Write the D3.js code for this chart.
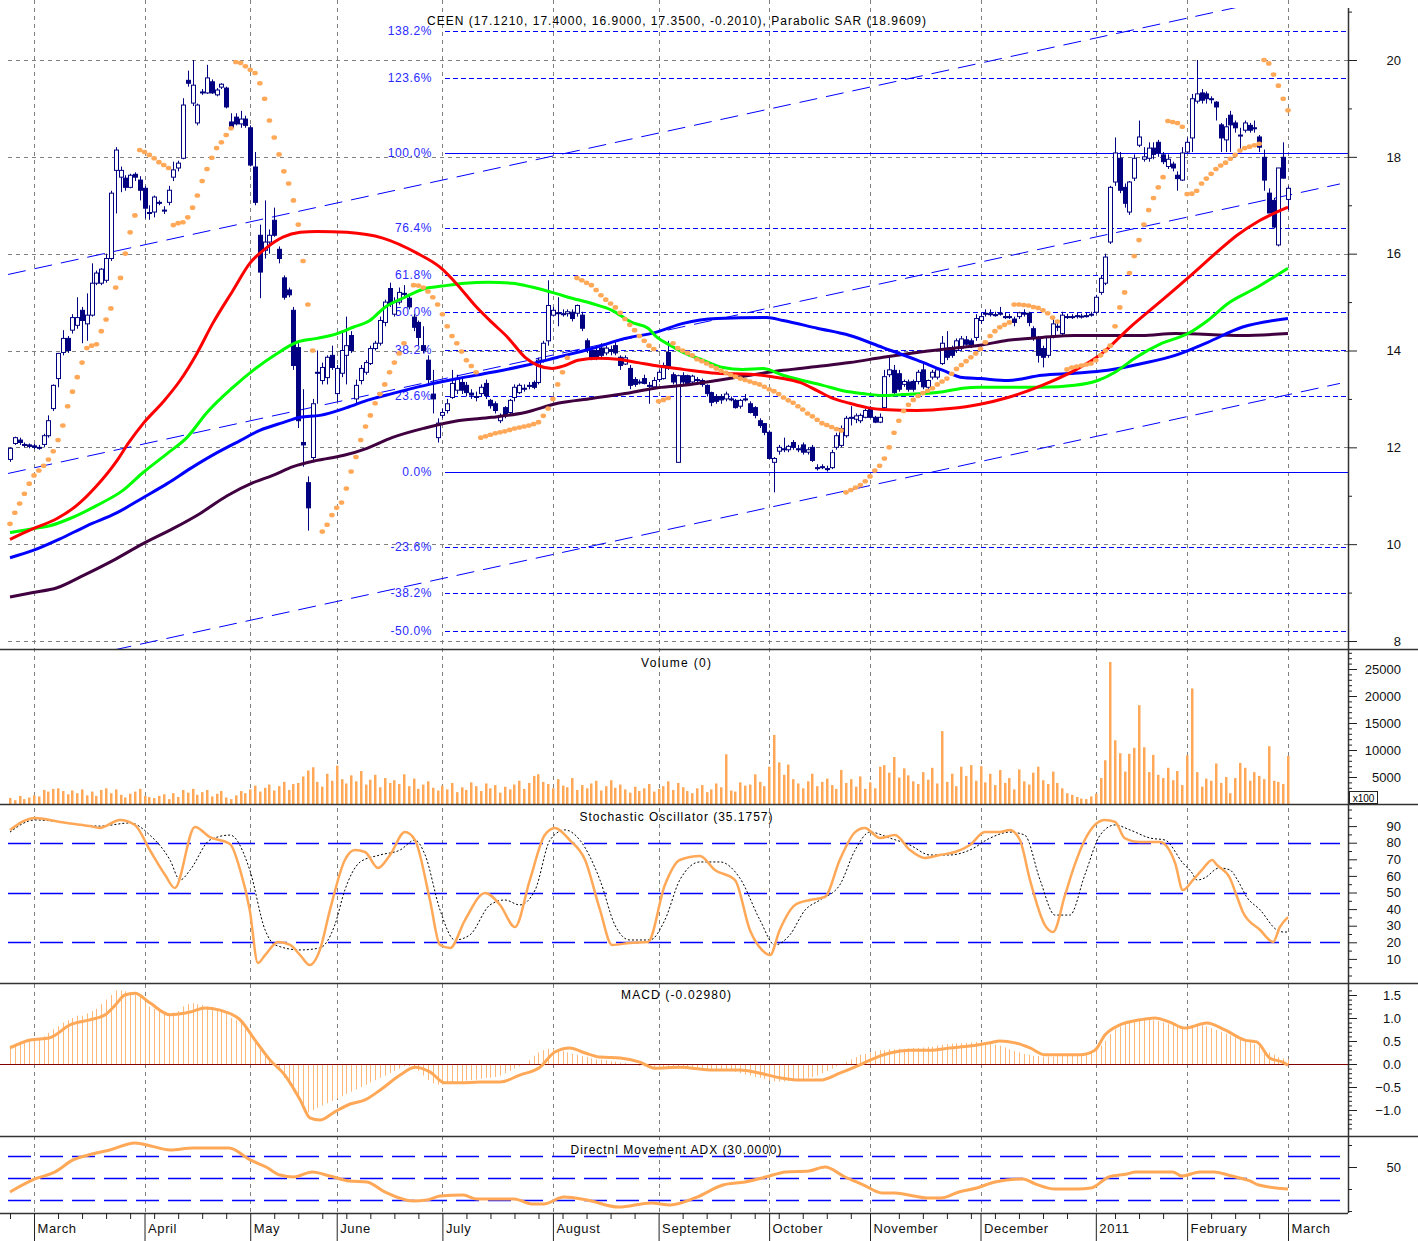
<!DOCTYPE html>
<html>
<head>
<meta charset="utf-8">
<script src="https://cdn.jsdelivr.net/npm/d3@7/dist/d3.min.js"></script>
<style>
  body { margin: 0; background: #fff; }
  svg text { font-family: Arial, "Liberation Sans", sans-serif; }
</style>
</head>
<body>
<div id="container"></div>
<script>
/* CONSTANTS AND GLOBALS */
const width = 1418, height = 1241;
const axisX = 1348;
const orange = "#ffa858";

/* DATA */
// one row per trading day: open, high, low, close
const ohlc = [
[11.75,12.0,11.7,11.98],[12.08,12.22,12.05,12.2],[12.15,12.2,12.05,12.1],[12.06,12.1,12.0,12.05],[12.05,12.08,11.98,12.02],
[12.03,12.07,11.96,12.0],[12.0,12.05,11.95,11.98],[12.06,12.28,12.0,12.24],[12.24,12.66,12.2,12.55],[12.8,13.3,12.75,13.28],
[13.42,13.95,13.24,13.94],[13.96,14.42,13.9,14.25],[14.25,14.3,13.95,14.0],[14.42,14.75,14.35,14.68],[14.52,15.1,14.45,14.68],
[14.83,14.9,14.15,14.62],[14.55,15.18,14.2,14.73],[14.73,15.8,14.7,15.39],[15.39,15.65,15.35,15.6],[15.39,15.7,15.35,15.68],
[15.45,16.0,15.4,15.9],[15.9,17.3,15.85,17.25],[17.72,18.2,16.83,18.14],[17.58,17.8,17.27,17.72],[17.56,17.62,17.3,17.37],
[17.37,17.65,17.35,17.62],[17.64,17.68,17.5,17.58],[17.52,17.6,17.1,17.31],[17.35,17.4,16.73,16.94],[16.85,17.0,16.7,16.85],
[16.86,17.2,16.75,17.17],[17.06,17.1,17.0,17.06],[16.9,16.98,16.82,16.9],[17.06,17.4,17.0,17.31],[17.58,17.9,17.5,17.73],
[17.77,17.92,17.7,17.87],[17.97,19.21,17.95,19.07],[19.58,19.78,19.45,19.52],[19.11,20.0,19.05,19.48],[18.7,19.1,18.65,19.07],
[19.34,19.4,19.28,19.34],[19.32,19.9,19.3,19.63],[19.55,19.6,19.3,19.32],[19.28,19.42,19.25,19.38],[19.44,19.52,19.4,19.5],
[19.42,19.45,19.0,19.03],[18.72,18.9,18.58,18.6],[18.82,18.9,18.65,18.68],[18.68,18.95,18.6,18.78],[18.78,18.85,18.6,18.65],
[18.6,18.65,17.8,17.83],[17.79,18.1,17.0,17.06],[16.38,16.6,15.08,15.62],[16.07,17.1,15.9,16.24],[16.24,16.5,16.0,16.38],
[16.69,16.95,16.35,16.38],[16.09,16.15,15.8,15.9],[15.5,15.55,15.05,15.1],[15.25,15.3,15.1,15.15],[14.83,14.9,13.6,13.69],
[14.06,14.15,12.4,12.55],[12.1,13.2,11.6,12.05],[11.27,11.4,10.28,10.75],[11.79,13.0,11.7,12.9],[13.55,14.0,12.9,13.55],
[13.38,13.75,13.3,13.65],[13.44,13.9,13.3,13.86],[13.9,14.1,13.6,13.65],[13.11,13.7,12.95,13.63],[13.53,14.4,13.45,14.0],
[13.9,14.7,13.3,14.1],[14.31,14.4,13.95,14.0],[13.0,13.4,12.9,13.28],[13.38,13.7,13.3,13.63],[13.55,13.8,13.5,13.75],
[13.73,14.1,13.7,14.04],[14.04,14.2,14.0,14.15],[14.15,14.7,14.1,14.62],[14.58,15.05,14.5,15.0],[15.28,15.4,14.9,14.97],
[14.75,15.1,14.7,15.0],[15.0,15.3,14.95,15.2],[15.18,15.35,15.1,15.18],[15.08,15.15,14.85,14.9],[14.69,14.75,14.4,14.48],
[14.58,14.62,14.1,14.27],[14.1,14.5,13.95,14.0],[13.8,13.9,13.3,13.4],[13.1,13.6,12.7,13.0],[12.2,12.6,12.1,12.5],
[12.66,12.8,12.6,12.72],[12.76,13.0,12.7,12.9],[13.03,13.6,13.0,13.32],[13.18,13.5,13.1,13.42],[13.34,13.45,13.1,13.18],
[13.28,13.35,13.05,13.13],[13.12,13.2,13.0,13.08],[13.05,13.15,12.95,13.05],[13.11,13.3,13.05,13.24],[13.32,13.4,13.0,13.07],
[12.97,13.0,12.8,12.86],[12.9,12.95,12.7,12.76],[12.55,12.7,12.5,12.66],[12.82,12.85,12.6,12.66],[12.72,13.0,12.65,12.97],
[13.03,13.3,12.95,13.24],[13.13,13.32,13.1,13.28],[13.22,13.3,13.15,13.22],[13.28,13.35,13.2,13.28],[13.34,13.38,13.2,13.24],
[13.34,13.85,13.3,13.8],[13.8,14.2,13.75,14.15],[14.2,15.45,14.1,14.93],[14.73,14.9,14.7,14.83],[14.78,15.1,14.5,14.78],
[14.76,14.85,14.7,14.76],[14.76,14.85,14.7,14.8],[14.79,14.85,14.6,14.66],[14.77,14.95,14.7,14.93],[14.73,14.8,14.4,14.46],
[14.2,14.25,13.95,14.0],[14.0,14.05,13.8,13.86],[14.0,14.1,13.8,13.85],[14.05,14.15,13.85,13.9],[13.95,14.1,13.9,14.05],
[14.02,14.1,13.9,13.98],[14.1,14.2,13.9,13.95],[13.86,13.9,13.6,13.69],[13.72,13.9,13.7,13.85],[13.63,13.7,13.2,13.28],
[13.4,13.45,13.25,13.3],[13.35,13.4,13.3,13.35],[13.42,13.5,13.3,13.32],[13.28,13.35,12.9,13.28],[13.25,13.45,13.2,13.38],
[13.4,13.6,13.35,13.55],[13.42,13.75,13.4,13.69],[13.96,14.2,13.6,13.63],[13.5,13.55,13.3,13.35],[11.69,13.5,11.69,13.48],
[13.48,13.55,13.3,13.35],[13.48,13.5,13.3,13.32],[13.35,13.5,13.3,13.47],[13.4,13.45,13.3,13.4],[13.38,13.42,13.25,13.3],
[13.28,13.3,13.05,13.11],[13.13,13.15,12.85,12.93],[13.05,13.1,12.9,12.95],[13.05,13.1,12.9,12.98],[13.0,13.15,12.95,13.1],
[13.0,13.05,12.95,13.0],[12.97,13.0,12.8,12.82],[12.85,13.0,12.8,12.97],[13.0,13.1,12.95,13.0],[12.9,12.95,12.7,12.72],
[12.82,12.85,12.6,12.66],[12.55,12.6,12.4,12.45],[12.49,12.5,12.25,12.31],[12.31,12.35,11.75,11.77],[11.69,11.8,11.07,11.77],
[11.92,12.05,11.85,12.0],[11.97,12.2,11.9,11.97],[11.95,12.05,11.9,12.02],[12.1,12.15,11.95,12.0],[11.97,12.05,11.9,11.97],
[12.05,12.1,11.85,11.9],[11.9,12.0,11.85,11.95],[12.0,12.05,11.7,11.73],[11.58,11.65,11.52,11.58],[11.6,11.65,11.55,11.6],
[11.56,11.62,11.5,11.56],[11.58,11.95,11.55,11.89],[12.0,12.3,11.95,12.24],[12.04,12.45,12.0,12.39],[12.24,12.65,12.2,12.6],
[12.62,12.85,12.45,12.62],[12.58,12.7,12.5,12.65],[12.55,12.7,12.5,12.66],[12.62,12.8,12.6,12.76],[12.8,12.85,12.6,12.62],
[12.62,12.65,12.5,12.52],[12.52,12.7,12.5,12.62],[12.82,13.6,12.8,13.46],[13.5,13.9,13.45,13.6],[13.59,13.7,13.1,13.13],
[13.52,13.6,13.15,13.2],[13.3,13.4,13.25,13.36],[13.35,13.4,13.15,13.2],[13.36,13.4,13.15,13.2],[13.36,13.6,13.3,13.55],
[13.6,13.75,13.2,13.25],[13.24,13.4,13.2,13.38],[13.45,13.6,13.4,13.55],[13.45,13.65,13.4,13.6],[13.73,14.3,13.7,14.15],
[14.0,14.4,13.8,13.86],[14.05,14.1,13.85,13.9],[14.0,14.25,13.95,14.2],[14.05,14.3,14.0,14.24],[14.22,14.3,14.1,14.13],
[14.2,14.25,14.05,14.1],[14.27,14.75,14.2,14.66],[14.62,14.78,14.55,14.7],[14.77,14.85,14.7,14.77],[14.76,14.85,14.7,14.76],
[14.74,14.8,14.7,14.74],[14.77,14.9,14.72,14.77],[14.7,14.78,14.65,14.7],[14.7,14.76,14.65,14.7],[14.65,14.7,14.5,14.58],
[14.7,14.8,14.65,14.78],[14.77,14.85,14.7,14.77],[14.77,14.8,14.5,14.58],[14.45,14.5,14.2,14.27],[14.27,14.3,13.75,13.9],
[14.04,14.1,13.65,13.86],[13.9,14.3,13.85,14.27],[14.3,14.65,14.25,14.55],[14.5,14.6,14.4,14.5],[14.35,14.8,14.3,14.73],
[14.7,14.76,14.65,14.7],[14.7,14.75,14.65,14.7],[14.72,14.78,14.66,14.72],[14.71,14.76,14.66,14.71],[14.72,14.78,14.68,14.72],
[14.75,14.8,14.7,14.75],[14.79,15.15,14.75,15.1],[15.2,15.55,15.15,15.49],[15.39,16.0,15.35,15.93],[16.24,17.4,16.2,17.37],
[17.48,18.4,17.4,18.08],[17.97,18.1,17.25,17.31],[17.37,17.45,16.95,17.04],[16.86,17.5,16.8,17.48],[17.56,18.05,17.5,17.97],
[18.24,18.75,18.2,18.41],[17.95,18.2,17.9,18.0],[17.97,18.3,17.9,18.18],[18.18,18.3,17.95,18.05],[18.3,18.35,18.0,18.08],
[18.04,18.1,17.85,17.9],[17.8,18.05,17.75,17.95],[17.85,17.9,17.7,17.77],[17.62,17.7,17.3,17.55],[17.52,18.2,17.5,18.08],
[18.1,18.4,18.08,18.3],[18.39,19.3,18.1,19.2],[19.15,20.0,19.1,19.3],[19.32,19.4,19.1,19.17],[19.3,19.35,19.1,19.2],
[19.2,19.25,19.1,19.2],[19.13,19.15,18.75,19.03],[18.66,18.7,18.1,18.39],[18.35,18.8,18.1,18.62],[18.86,18.95,18.1,18.66],
[18.7,18.75,18.5,18.6],[18.45,18.6,18.1,18.45],[18.55,18.75,18.5,18.7],[18.65,18.7,18.5,18.55],[18.6,18.75,18.5,18.6],
[18.41,18.45,18.1,18.2],[17.99,18.15,17.3,17.52],[17.25,17.35,16.84,16.84],[17.1,17.15,16.52,16.55],[16.18,17.77,16.15,17.77],
[17.99,18.3,17.55,17.56],[17.121,17.4,16.9,17.35]
];

// parabolic SAR, one value per day (null = no dot)
const sar = [
10.42,10.65,10.84,11.04,11.25,11.42,11.52,11.62,11.75,11.92,12.15,12.45,12.85,13.15,13.45,13.75,14.05,14.1,14.13,14.4,14.64,14.87,15.3,15.5,16.0,16.44,16.79,
18.14,18.1,18.04,17.97,17.89,17.83,17.77,
16.59,16.63,16.65,16.75,16.95,17.2,17.5,17.75,17.98,18.18,18.3,18.45,18.59,
19.96,19.94,19.87,19.8,19.73,19.52,19.2,18.75,18.4,18.05,17.7,17.45,17.1,16.6,15.85,14.95,14.0,
null,
10.26,10.4,10.6,10.75,10.86,11.15,11.5,11.8,12.15,12.43,12.66,12.91,13.1,13.3,13.55,13.75,13.94,14.15,
null,
15.35,15.34,15.3,15.22,15.1,14.95,14.75,14.5,14.3,14.15,13.98,13.8,13.68,13.55,
12.2,12.23,12.26,12.29,12.31,12.33,12.36,12.39,12.41,12.43,12.45,12.48,12.52,12.65,12.8,13.0,13.3,13.55,13.85,
null,
15.5,15.45,15.4,15.35,15.25,15.14,15.05,14.97,14.89,14.78,14.65,14.53,14.42,14.3,14.2,14.1,14.03,
12.95,12.98,13.02,
14.15,14.05,14.0,13.95,13.9,13.82,13.78,13.73,13.68,13.63,13.58,13.54,13.5,13.46,13.42,13.39,13.36,13.33,13.3,13.25,
13.2,13.16,13.1,13.03,12.97,12.92,12.85,12.78,12.7,12.64,12.57,12.5,12.46,12.42,12.38,12.35,
11.07,11.12,11.17,11.22,11.3,11.4,11.52,11.62,11.77,12.0,12.3,12.55,12.75,12.88,12.98,13.06,13.12,13.17,13.22,13.3,
13.36,13.42,13.52,13.62,13.7,13.78,13.86,13.94,14.03,14.17,14.3,14.4,14.48,14.53,14.58,
14.95,14.95,14.94,14.93,14.9,14.88,14.83,14.77,14.68,14.6,
null,
13.61,13.65,13.67,13.69,13.71,13.73,13.8,13.9,14.0,14.1,14.5,14.89,15.2,15.6,15.95,16.28,16.6,16.9,17.15,17.37,17.58,
18.74,18.72,18.7,18.62,
17.23,17.24,17.3,17.45,17.55,17.65,17.75,17.82,17.88,17.96,18.04,18.13,18.18,18.21,18.24,18.27,
20.0,19.93,19.7,19.47,19.2,18.96
];

// daily volume (x100)
const volume = [
1100,700,1500,900,1200,1600,1400,2600,2300,2800, 2900,2400,1800,2500,2000,2700,1600,2300,1500,2600,
2900,2000,2700,1700,1200,1900,2300,2800,1500,1300, 1100,1500,1800,900,2000,1300,2600,2100,2800,1700,
2200,2600,1400,1900,2400,1200,900,1600,2400,2000, 2700,3400,2300,3000,3600,2500,3300,4100,2600,3700,
3900,5100,6200,6800,4100,3200,5600,4300,7100,4600, 3800,5300,4200,6100,3600,4500,5400,3100,4800,3900,
4400,3700,5500,3300,4700,2800,3600,4200,3000,2500, 3400,2700,3900,2200,3100,2600,4000,3300,2400,3800,
2900,3500,2100,3200,2700,3600,4300,2800,3900,5200, 5500,4100,3700,2900,4600,3400,3100,4800,2600,3500,
2900,3800,4300,2500,3300,4400,3000,3600,2700,2100, 3200,2400,2900,3700,2300,2800,3300,4200,2600,3900,
3100,2400,2000,2900,3500,2200,2700,3800,3100,9200, 2500,2300,4000,3400,3600,5500,4100,3300,6900,12800,
7700,5400,7300,4600,3800,2900,4200,5600,3300,4100, 4700,3500,2800,6300,3900,4600,3200,5100,2800,4000,
2900,6900,7200,5800,8700,4900,6600,5300,4200,3700, 5900,4500,6700,3800,13500,4100,5600,3300,6900,5200,
7200,4300,7000,4000,5600,3500,6300,3900,4800,2700, 6400,4200,3600,5800,6900,4400,3700,6000,3900,2900,
2000,1700,1300,1000,900,1400,1900,4800,8100,26300, 11800,9400,6000,9300,10400,18300,10500,
5900,9100,5400,4800,6700,4400,6100,3500,9000,
21400,5900,3200,4700,4300,7500,3900,5000,2000,4800,7600,6700,4300,5900,5200,4600,10700,4300,4100,3700,8900
];

// MACD histogram, one value per day
const macdBars = [
0.4,0.42,0.45,0.45,0.5,0.5,0.52, 0.6,0.68,0.75,0.82,0.9,0.95, 1.0,1.05,1.05,1.1,1.15,1.2,
1.3,1.4,1.5,1.6,1.6,1.58,1.55, 1.5,1.45,1.35,1.25,1.2, 1.15,1.1,1.1,1.12,1.15,1.25,1.3,
1.32,1.3,1.28,1.25,1.22,1.2,1.15,1.1, 1.0,0.95,0.9,0.8,0.7, 0.5,0.3,0.2,0.1,0.0,-0.1,
-0.3,-0.45,-0.6,-0.75,-0.9,-1.05, -1.0,-0.95,-0.9,-0.85,-0.8,-0.75, -0.7,-0.65,-0.6,-0.55,-0.5,-0.45,-0.4,
-0.35,-0.3,-0.25,-0.2,-0.15,-0.1,-0.05, -0.05,-0.1,-0.15,-0.25,-0.35,-0.42, -0.45,-0.45,-0.42,-0.4,-0.38,-0.38,-0.36,
-0.35,-0.34,-0.32,-0.3,-0.3,-0.28,-0.25,-0.2,-0.15, -0.1,-0.05,0.0,0.08,0.18,0.25, 0.3,0.33,0.33,0.3,0.28,0.25,
0.22,0.2,0.17,0.15,0.12,0.1,0.1,0.08,0.06, 0.05,0.03,0.02,0.0,-0.02,-0.04,-0.05,-0.06,-0.07,-0.08,
-0.08,-0.07,-0.06,-0.06,-0.08,-0.1,-0.1,-0.12,-0.12,-0.12,-0.12,-0.13,-0.14,-0.14,-0.15,
-0.17,-0.2,-0.23,-0.25,-0.28,-0.3,-0.33,-0.36,-0.38,-0.38, -0.38,-0.37,-0.36,-0.35,-0.33,-0.3,-0.28,-0.25,-0.2,-0.15,-0.1,-0.05,
0.0,0.05,0.1,0.15,0.2,0.22,0.25,0.28, 0.3,0.3,0.32,0.32,0.33,0.33,0.34,0.35,0.35,0.36,0.37,0.38,0.4,0.42,0.43,
0.44,0.45,0.45,0.46,0.47,0.48,0.48,0.47,0.45,0.42,0.4, 0.36,0.32,0.28,0.25,0.22,0.2,0.18,0.17,0.16,
0.16,0.16,0.17,0.18,0.18,0.19,0.2,0.21,0.22,0.25, 0.3,0.4,0.5,0.65,0.75,0.82,0.88,
0.92,0.95,0.97,0.98,0.97,0.95,0.93,0.9,0.88,0.86,0.84,0.82,0.82, 0.85,0.86,0.85,0.82,0.78,0.74,0.7,0.66,0.62,0.58,
0.54,0.5,0.47,0.43,0.38,0.32,0.25,0.2,0.15,0.12,0.1
];

// smooth series read as [day index, value]
const maRed = [[0,10.1],[4.8,10.32],[9.8,10.53],[13.9,10.8],[18.1,11.21],[22.3,11.73],[24.6,12.08],[27.7,12.49],[31.8,12.93],[35.4,13.38],[38.9,13.94],[42.2,14.56],[46.4,15.24],[49.9,15.8],[53.5,16.13],[56.8,16.34],[60.4,16.44],[63.9,16.46],[70.1,16.44],[77.6,16.32],[84.7,16.01],[89.5,15.72],[93.2,15.35],[96.8,14.93],[100.3,14.58],[103.6,14.27],[107.2,13.86],[109.9,13.69],[112.8,13.63],[115.5,13.69],[118.2,13.8],[122.4,13.84],[126.5,13.82],[130.7,13.75],[134.2,13.69],[140.1,13.61],[147.1,13.53],[154,13.51],[160.9,13.42],[164.4,13.34],[168,13.17],[171.3,13.01],[174.8,12.91],[178.4,12.82],[181.7,12.78],[188.8,12.76],[195.6,12.8],[201.9,12.89],[207.7,13.03],[214.8,13.28],[221.6,13.59],[227.3,13.94],[233.1,14.48],[239.3,15.0],[246.2,15.59],[251.2,16.03],[255.4,16.38],[259.5,16.65],[262.2,16.79],[266,16.96]];
const maGreen = [[0,10.24],[4.8,10.32],[8.3,10.38],[12.5,10.53],[18.1,10.8],[23.5,11.11],[27.7,11.48],[32.7,11.87],[36.8,12.2],[41,12.72],[46.4,13.24],[50.6,13.59],[55.6,13.94],[59.7,14.17],[63.9,14.25],[68.1,14.35],[71.4,14.48],[74.9,14.62],[78,14.89],[82.2,15.1],[86.4,15.28],[89.9,15.33],[94.7,15.39],[99.5,15.41],[104.5,15.39],[108.6,15.31],[112.8,15.2],[117,15.08],[121.1,14.97],[125.3,14.83],[129.4,14.58],[132.8,14.46],[134.7,14.27],[137.4,14.11],[140.1,13.96],[144.2,13.8],[148.4,13.65],[152.5,13.61],[156.7,13.63],[160.9,13.49],[165,13.38],[169.2,13.28],[173.4,13.17],[177.5,13.11],[181.7,13.07],[185.8,13.09],[190,13.11],[194.2,13.15],[198.3,13.22],[201.9,13.24],[207.7,13.24],[214.8,13.24],[221.6,13.28],[226.4,13.38],[230,13.55],[234.1,13.84],[239.8,14.15],[245.2,14.35],[249.3,14.62],[253.5,14.97],[259.1,15.28],[266,15.7]];
const maBlue = [[0,9.72],[4.8,9.87],[10.4,10.11],[16,10.38],[22.3,10.65],[27.7,10.96],[32.7,11.25],[37.5,11.56],[43.1,11.89],[47.9,12.14],[52,12.35],[56.8,12.51],[60.4,12.62],[64.5,12.66],[70.1,12.82],[74.3,12.97],[79.5,13.11],[86.4,13.28],[93.2,13.42],[100.3,13.55],[107.2,13.69],[114,13.86],[121.1,14.04],[128,14.25],[134.2,14.37],[140.1,14.56],[147.1,14.66],[157.5,14.68],[160.9,14.62],[168,14.46],[174.8,14.31],[181.7,14.06],[188.8,13.8],[194.2,13.59],[198.3,13.44],[201.9,13.42],[207.7,13.38],[214.8,13.49],[221.6,13.53],[228.5,13.59],[235.6,13.73],[242.5,13.9],[249.3,14.17],[256.4,14.48],[266,14.66]];
const maPurple = [[0,8.91],[4.8,9.0],[9.8,9.1],[15.2,9.35],[21.4,9.66],[27.7,10.01],[33.9,10.32],[39.5,10.63],[45.2,11.0],[50.6,11.27],[54.7,11.42],[58.9,11.6],[63.9,11.73],[69.3,11.83],[74.3,11.98],[79.5,12.2],[86.4,12.4],[93.2,12.55],[100.3,12.62],[107.2,12.72],[114,12.91],[121.1,13.01],[128,13.11],[134.2,13.22],[140.1,13.28],[147.1,13.38],[154,13.49],[160.9,13.59],[168,13.67],[174.8,13.75],[181.7,13.86],[188.8,13.96],[195.6,14.04],[201.9,14.11],[207.7,14.21],[214.8,14.27],[221.6,14.31],[235.6,14.31],[242.5,14.35],[256.4,14.31],[266,14.35]];

const stochK = [[0,87.7],[5.2,94.9],[10.4,92.5],[16.6,90],[18.7,88.9],[22.9,93.7],[26,90.7],[29.1,75.6],[32.3,60.5],[34.3,52.7],[38.5,89.5],[41.6,83.4],[45.8,79.2],[47.9,63.6],[49.9,39.5],[51.6,7.5],[53.1,12.3],[55.8,20.2],[58.3,18.4],[60.4,12.3],[62.4,6.3],[64.5,15.4],[66.6,39.5],[69.7,69.6],[71.8,75.6],[73.9,74.4],[76.6,64.8],[79.1,72.6],[82.2,86.4],[84.3,81.6],[87.4,45.5],[89.5,18.4],[91.6,16.6],[94.7,33.4],[98.9,49.7],[102,42.5],[105.1,29.2],[108.2,57.5],[111.3,84.6],[113.4,88.9],[116.5,81.6],[119.7,69.6],[122.8,39.5],[125.3,18.4],[129,19.6],[132.8,20.2],[136.3,54.5],[139.4,69.6],[143.6,72],[146.7,63.6],[150.9,57.5],[154,27.4],[156.5,15.4],[158.2,12.3],[160.2,27.4],[163.4,42.5],[166.5,45.5],[169.6,47.3],[172.7,69.6],[175.9,86.4],[177.9,88.9],[181.1,82.8],[184.2,84.6],[187.3,75.6],[190.4,70.8],[193.5,72.6],[196.7,74.4],[199.8,78.6],[202.9,86.4],[206,86.4],[208.1,87.7],[210.2,81.6],[212.3,57.5],[215.4,30.4],[217.1,26.2],[219.6,48.5],[221.6,66.6],[223.7,81.6],[225.8,90.7],[227.9,93.7],[230,92.5],[232,82.8],[235.2,80.4],[239.3,80.4],[242.5,67.8],[244.1,51.5],[246.2,57.5],[248.1,63.6],[250.2,69.6],[251.2,66.6],[253.9,58.7],[255.4,47.3],[256.6,38.3],[260.2,27.4],[262.9,20.2],[264.3,29.2],[266,35.18]];
const stochD = [[0,86.4],[5.2,93.7],[18.7,90],[25,91.9],[29.1,84.6],[33.3,69.6],[35.4,57.5],[37.5,63.6],[41.6,81.6],[45.8,84.6],[49.9,63.6],[53.1,27.4],[55.2,18.4],[60.4,15.4],[64.5,16.6],[67.6,30.4],[69.7,51.5],[72.9,68.4],[77,72.6],[81.2,75.6],[84.3,81.6],[86.4,72.6],[89.5,39.5],[92.6,21.4],[95.7,24.4],[99.9,42.5],[103,45.5],[106.1,42.5],[109.3,51.5],[112.4,81.6],[115.5,87.7],[118.6,81.6],[122.8,57.5],[125.9,30.4],[129,21.4],[133.2,21.4],[136.3,33.4],[139.4,57.5],[143.6,68.4],[147.8,68.4],[151.9,58.7],[156.1,33.4],[159.2,18.4],[162.3,24.4],[165.5,39.5],[168.6,45.5],[172.7,54.5],[175.9,75.6],[179,86.4],[183.1,82.8],[187.3,78.6],[191.5,72.6],[195.6,72.6],[199.8,75.6],[204,82.8],[208.1,86.4],[211.2,84.6],[214.4,57.5],[217.5,36.4],[220.6,36.4],[223.7,60.5],[226.9,84.6],[230,90.7],[233.1,87.7],[237.3,82.8],[240.4,81.6],[244.1,67.8],[245.9,62.3],[247.1,57.5],[248.6,58.7],[251.7,64.8],[253.9,63.6],[255.5,57.5],[257.4,47.3],[260.2,39.5],[263.7,27.4],[265,26.2],[266,26.2]];

const macdLine = [[0,0.35],[4.2,0.52],[8.3,0.57],[12.5,0.85],[16.6,0.96],[19.8,1.07],[21.9,1.28],[23.9,1.5],[26,1.54],[29.1,1.33],[33.3,1.07],[37.5,1.13],[40.6,1.22],[43.7,1.17],[47.9,0.96],[51,0.52],[54.1,0.09],[57.2,-0.24],[60.4,-0.78],[62.4,-1.17],[64.5,-1.22],[67.6,-1.04],[70.8,-0.87],[73.9,-0.78],[77,-0.57],[81.2,-0.24],[84.3,-0.07],[87.4,-0.17],[90.5,-0.41],[93.7,-0.41],[97.8,-0.39],[102,-0.39],[106.1,-0.24],[110.3,-0.07],[113.4,0.26],[116.5,0.35],[119.7,0.24],[122.8,0.15],[127,0.13],[131.1,0.04],[134.2,-0.09],[139.4,-0.07],[145.7,-0.13],[151.9,-0.13],[156.1,-0.2],[160.2,-0.3],[164.4,-0.35],[168.6,-0.35],[172.7,-0.2],[176.9,-0.02],[180,0.13],[183.1,0.24],[187.3,0.3],[191.5,0.3],[195.6,0.35],[199.8,0.39],[204,0.46],[206,0.5],[209.2,0.46],[212.3,0.35],[215.4,0.2],[218.5,0.2],[222.7,0.2],[225.8,0.3],[227.9,0.63],[231,0.85],[235.2,0.96],[238.3,1.0],[241.4,0.91],[244.5,0.78],[249.1,0.89],[252.9,0.74],[257,0.52],[259.5,0.48],[262.2,0.13],[264.9,0.04],[266,-0.03]];

const adx = [[0,27.3],[5.2,39.1],[9.4,45.5],[13.1,56.4],[17.1,61.8],[20.8,65.5],[26,71.8],[29.3,69.1],[33.3,65.5],[38.1,67.3],[45.6,67.3],[50,56.4],[53.3,50],[56.2,42.7],[59.1,40.9],[62.9,45.5],[66.6,41.8],[70.6,37.3],[74.3,36.4],[78,27.3],[83.9,19.1],[86.8,20],[89.5,23.6],[94.3,24.5],[97.2,20.9],[104.9,20.9],[108.6,16.4],[111.1,16.4],[115.3,22.7],[120.1,20],[126.7,13.6],[133.4,17.3],[137.4,15.5],[143,22.7],[148.4,33.6],[153,36.4],[157.3,40.9],[161.5,45.5],[166.3,46.4],[169.6,50],[173.8,40.9],[177.7,33.6],[181.5,26.4],[184.2,26.4],[188.1,23.6],[190.8,21.8],[193.8,21.8],[197.5,27.3],[201.2,30.9],[205,36.4],[210.8,39.1],[213.5,34.5],[217.5,30],[222.1,30],[225,30.9],[228.7,40.9],[232.5,43.6],[234.3,45.5],[242,45.5],[243.9,41.8],[247.7,45.5],[250.6,45.5],[254.3,41.8],[258.1,37.3],[259.9,33.6],[266,30]];

// months on the time axis (first trading day index)
const monthLabels = ["March","April","May","June","July","August","September","October","November","December","2011","February","March"];
const monthStart = [5,28,50,68,90,113,135,158,179,202,226,245,266];

// fibonacci retracement between 11.50 and 18.08
const fibLow = 11.5, fibHigh = 18.08;
const fibLevels = [138.2,123.6,100,76.4,61.8,50,38.2,23.6,0,-23.6,-38.2,-50];

// regression channel: [day index, price] endpoints
const channelIdx = [-0.4, 276.8];
const channelUpper = [15.57, 21.55];
const channelMid = [11.46, 17.44];
const channelLow = [7.34, 13.32];

const stochLevels = [80, 50, 20];
const adxLevels = [60, 40, 20];

/* SCALES */
const x = d3.scaleLinear().domain([0, 266]).range([10, 1288]);
const yPrice = d3.scaleLinear().domain([8, 20]).range([641, 60]);
const yVol = d3.scaleLinear().domain([0, 25000]).range([804, 669]);
const yStoch = d3.scaleLinear().domain([0, 100]).range([975.5, 809.5]);
const yMacd = d3.scaleLinear().domain([0, 1.5]).range([1064, 995]);
const yAdx = d3.scaleLinear().domain([10, 70]).range([1211, 1145]);

const panels = {
  main: [8, 649], vol: [650, 804], stoch: [805, 983], macd: [984, 1136], adx: [1137, 1213]
};

/* SVG */
const svg = d3.select("#container").append("svg")
  .attr("width", width).attr("height", height)
  .style("background", "#fff");

const defs = svg.append("defs");
Object.entries(panels).forEach(([k, [t, b]]) => {
  defs.append("clipPath").attr("id", "clip-" + k)
    .append("rect").attr("x", 0).attr("y", t).attr("width", axisX).attr("height", b - t);
});

// vertical month grid
svg.append("g").selectAll("line").data(monthStart).join("line")
  .attr("x1", d => Math.round(x(d)) + 0.5).attr("x2", d => Math.round(x(d)) + 0.5)
  .attr("y1", 0).attr("y2", 1213)
  .attr("stroke", "#808080").attr("stroke-dasharray", "4,4");

// horizontal price grid
svg.append("g").selectAll("line").data(d3.range(8, 21, 2)).join("line")
  .attr("x1", 8).attr("x2", axisX)
  .attr("y1", d => Math.round(yPrice(d)) + 0.5).attr("y2", d => Math.round(yPrice(d)) + 0.5)
  .attr("stroke", "#808080").attr("stroke-dasharray", "4,4");

/* FIBONACCI */
const fibPrice = lv => fibLow + (fibHigh - fibLow) * lv / 100;
const fibG = svg.append("g");
fibG.selectAll("line").data(fibLevels).join("line")
  .attr("x1", 445).attr("x2", axisX)
  .attr("y1", d => Math.round(yPrice(fibPrice(d))) + 0.5)
  .attr("y2", d => Math.round(yPrice(fibPrice(d))) + 0.5)
  .attr("stroke", "#0000ff")
  .attr("stroke-dasharray", d => (d === 0 || d === 100) ? null : "5,3");
fibG.selectAll("text").data(fibLevels).join("text")
  .attr("x", 432).attr("y", d => yPrice(fibPrice(d)) + 4)
  .attr("text-anchor", "end").attr("font-size", 12).attr("letter-spacing", 0.6)
  .attr("fill", "#2a2aff")
  .text(d => d.toFixed(1) + "%");

/* CHANNEL */
const chLine = d3.line().x(d => x(d[0])).y(d => yPrice(d[1]));
svg.append("g").attr("clip-path", "url(#clip-main)")
  .selectAll("path").data([channelUpper, channelMid, channelLow]).join("path")
  .attr("d", p => chLine(channelIdx.map((c, i) => [c, p[i]])))
  .attr("fill", "none").attr("stroke", "#0000ff").attr("stroke-dasharray", "18,9");

/* CANDLES */
const candleG = svg.append("g").attr("clip-path", "url(#clip-main)");
candleG.selectAll("line").data(ohlc).join("line")
  .attr("x1", (d, i) => Math.round(x(i)) + 0.5).attr("x2", (d, i) => Math.round(x(i)) + 0.5)
  .attr("y1", d => yPrice(d[1])).attr("y2", d => yPrice(d[2]))
  .attr("stroke", "#000080");
candleG.selectAll("rect").data(ohlc).join("rect")
  .attr("x", (d, i) => Math.round(x(i)) - 1.5).attr("width", 4)
  .attr("y", d => yPrice(Math.max(d[0], d[3])))
  .attr("height", d => Math.max(1, Math.abs(yPrice(d[0]) - yPrice(d[3]))))
  .attr("fill", d => d[3] > d[0] ? "#fff" : "#000080")
  .attr("stroke", "#000080");

/* MOVING AVERAGES */
const priceLine = d3.line().x(d => x(d[0])).y(d => yPrice(d[1])).curve(d3.curveMonotoneX);
const maG = svg.append("g").attr("clip-path", "url(#clip-main)");
[[maPurple, "#400040"], [maBlue, "#0000ff"], [maGreen, "#00ff00"], [maRed, "#ff0000"]].forEach(([s, c]) => {
  maG.append("path").datum(s).attr("d", priceLine)
    .attr("fill", "none").attr("stroke", c).attr("stroke-width", 3);
});

/* SAR */
svg.append("g").attr("clip-path", "url(#clip-main)")
  .selectAll("ellipse").data(sar.map((v, i) => [i, v]).filter(d => d[1] !== null)).join("ellipse")
  .attr("cx", d => x(d[0])).attr("cy", d => yPrice(d[1]))
  .attr("rx", 2.8).attr("ry", 2.3).attr("fill", orange);

svg.append("text").attr("x", 427).attr("y", 25)
  .attr("font-size", 12).attr("textLength", 499).attr("lengthAdjust", "spacing")
  .text("CEEN (17.1210, 17.4000, 16.9000, 17.3500, -0.2010), Parabolic SAR (18.9609)");

/* VOLUME */
svg.append("g").attr("clip-path", "url(#clip-vol)")
  .selectAll("rect").data(volume).join("rect")
  .attr("x", (d, i) => Math.round(x(i)) - 1).attr("width", 2.5)
  .attr("y", d => yVol(d)).attr("height", d => 804 - yVol(d))
  .attr("fill", orange);

/* STOCHASTIC */
const stochG = svg.append("g").attr("clip-path", "url(#clip-stoch)");
stochG.selectAll("line").data(stochLevels).join("line")
  .attr("x1", 8).attr("x2", 1340)
  .attr("y1", d => Math.round(yStoch(d)) + 0.5).attr("y2", d => Math.round(yStoch(d)) + 0.5)
  .attr("stroke", "#0000ff").attr("stroke-width", 1.5).attr("stroke-dasharray", "23,9");
const stLine = d3.line().x(d => x(d[0])).y(d => yStoch(d[1])).curve(d3.curveMonotoneX);
stochG.append("path").datum(stochD).attr("d", stLine)
  .attr("fill", "none").attr("stroke", "#000").attr("stroke-dasharray", "2,2");
stochG.append("path").datum(stochK).attr("d", stLine)
  .attr("fill", "none").attr("stroke", orange).attr("stroke-width", 2.5);

/* MACD */
const macdG = svg.append("g").attr("clip-path", "url(#clip-macd)");
macdG.selectAll("line").data(macdBars).join("line")
  .attr("x1", (d, i) => Math.round(x(i)) + 0.5).attr("x2", (d, i) => Math.round(x(i)) + 0.5)
  .attr("y1", yMacd(0)).attr("y2", d => yMacd(d))
  .attr("stroke", "#ffb878");
macdG.append("line").attr("x1", 0).attr("x2", axisX)
  .attr("y1", Math.round(yMacd(0)) + 0.5).attr("y2", Math.round(yMacd(0)) + 0.5)
  .attr("stroke", "#800000");
macdG.append("path").datum(macdLine)
  .attr("d", d3.line().x(d => x(d[0])).y(d => yMacd(d[1])).curve(d3.curveMonotoneX))
  .attr("fill", "none").attr("stroke", orange).attr("stroke-width", 3);

/* ADX */
const adxG = svg.append("g").attr("clip-path", "url(#clip-adx)");
adxG.selectAll("line").data(adxLevels).join("line")
  .attr("x1", 8).attr("x2", 1340)
  .attr("y1", d => Math.round(yAdx(d)) + 0.5).attr("y2", d => Math.round(yAdx(d)) + 0.5)
  .attr("stroke", "#0000ff").attr("stroke-width", 1.5).attr("stroke-dasharray", "23,9");
adxG.append("path").datum(adx)
  .attr("d", d3.line().x(d => x(d[0])).y(d => yAdx(d[1])).curve(d3.curveMonotoneX))
  .attr("fill", "none").attr("stroke", orange).attr("stroke-width", 3);

/* PANEL TITLES */
[["Volume (0)", 667, 70], ["Stochastic Oscillator (35.1757)", 821, 193],
 ["MACD (-0.02980)", 999, 110], ["Directnl Movement ADX (30.0000)", 1154, 211]].forEach(([t, y, w]) => {
  svg.append("text").attr("x", 676).attr("y", y).attr("text-anchor", "middle")
    .attr("font-size", 12).attr("textLength", w).attr("lengthAdjust", "spacing").text(t);
});

/* FRAME */
[649, 804, 983, 1136].forEach(y => {
  svg.append("line").attr("x1", 0).attr("x2", width).attr("y1", y + 0.5).attr("y2", y + 0.5)
    .attr("stroke", "#333").attr("stroke-width", 1.5);
});
svg.append("line").attr("x1", 0).attr("x2", axisX).attr("y1", 1213.5).attr("y2", 1213.5)
  .attr("stroke", "#333").attr("stroke-width", 1.5);
svg.append("line").attr("x1", axisX + 0.5).attr("x2", axisX + 0.5).attr("y1", 8).attr("y2", 1213)
  .attr("stroke", "#333").attr("stroke-width", 1.5);

/* RIGHT AXES */
function rightAxis(scale, major, minor, fmt) {
  const gMin = svg.append("g").attr("transform", `translate(${axisX},0)`)
    .call(d3.axisRight(scale).tickValues(minor).tickSize(4).tickFormat(""));
  const gMaj = svg.append("g").attr("transform", `translate(${axisX},0)`)
    .call(d3.axisRight(scale).tickValues(major).tickSize(9).tickFormat(fmt));
  [gMin, gMaj].forEach(g => {
    g.select(".domain").remove();
    g.selectAll("line").attr("stroke", "#222");
  });
  gMaj.selectAll("text").attr("x", 53).attr("text-anchor", "end")
    .attr("font-size", 13).attr("font-family", "Arial, 'Liberation Sans', sans-serif").attr("fill", "#111");
}
rightAxis(yPrice, d3.range(8, 21, 2), d3.range(9, 22, 2), d3.format("d"));
rightAxis(yVol, d3.range(5000, 25001, 5000), d3.range(0, 28001, 1000).filter(d => d % 5000), d3.format("d"));
rightAxis(yStoch, d3.range(10, 91, 10), [0, 5, 15, 25, 35, 45, 55, 65, 75, 85, 95, 100], d3.format("d"));
rightAxis(yMacd, [-1, -0.5, 0, 0.5, 1, 1.5], d3.range(-15, 17).map(d => d / 10).filter(d => Math.abs(d * 2 - Math.round(d * 2)) > 1e-6), d3.format(".1f"));
rightAxis(yAdx, [50], [10, 30, 70], d3.format("d"));

// x100 marker
svg.append("rect").attr("x", 1349.5).attr("y", 791.5).attr("width", 28).attr("height", 12)
  .attr("fill", "#fff").attr("stroke", "#222");
svg.append("text").attr("x", 1363.5).attr("y", 801.5).attr("text-anchor", "middle")
  .attr("font-size", 10).text("x100");

/* TIME AXIS */
const weekTicks = d3.range(0, 267, 5).filter(i => monthStart.every(m => Math.abs(m - i) > 1));
const gWeek = svg.append("g").attr("transform", "translate(0,1213)")
  .call(d3.axisBottom(x).tickValues(weekTicks).tickSize(6).tickFormat(""));
gWeek.select(".domain").remove();
gWeek.selectAll("line").attr("stroke", "#222");

const gMonth = svg.append("g").attr("transform", "translate(0,1213)")
  .call(d3.axisBottom(x).tickValues(monthStart).tickSize(28).tickFormat((d, i) => monthLabels[i]));
gMonth.select(".domain").remove();
gMonth.selectAll("line").attr("stroke", "#222");
gMonth.selectAll("text").attr("x", 3).attr("y", 20).attr("dy", 0)
  .attr("text-anchor", "start").attr("font-size", 13).attr("letter-spacing", 0.6)
  .attr("font-family", "Arial, 'Liberation Sans', sans-serif").attr("fill", "#111");
</script>
</body>
</html>
